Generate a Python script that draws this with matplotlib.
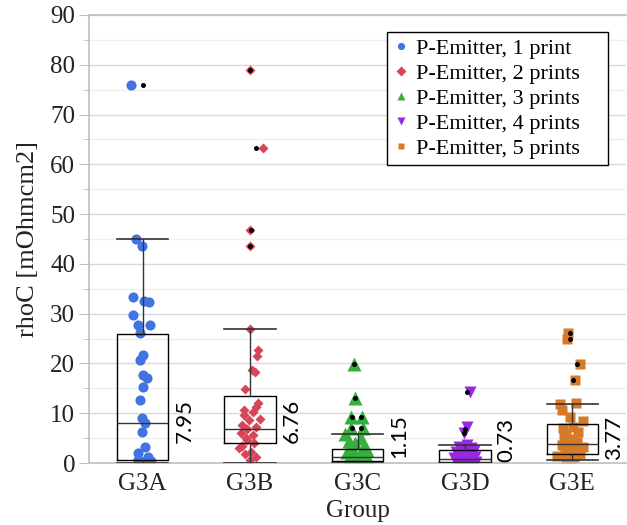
import matplotlib
matplotlib.use('Agg')
import matplotlib.pyplot as plt
from matplotlib.patches import Rectangle
import numpy as np

# data
groups = ['G3A', 'G3B', 'G3C', 'G3D', 'G3E']
labels = ['P-Emitter, 1 print', 'P-Emitter, 2 prints', 'P-Emitter, 3 prints',
          'P-Emitter, 4 prints', 'P-Emitter, 5 prints']

g3a = [76, 45, 43.5, 33.3, 32.5, 32.3, 29.7, 27.7, 27.7, 26.1, 21.7, 20.7, 17.7,
       17.0, 15.3, 12.7, 9.0, 8.0, 6.3, 3.2, 2.0, 1.2, 0.6, 0.4, 0.4, 0.3]
g3b = [79.0, 63.3, 46.8, 43.6, 26.9, 22.7, 21.5, 18.7, 18.3, 14.8, 12.0, 11.3,
       10.6, 10.3, 9.6, 8.9, 8.6, 7.6, 7.2, 6.8, 6.0, 5.6, 5.0, 4.6, 4.0, 3.5,
       3.0, 2.3, 1.8, 1.2, 0.6]
g3c = [19.9, 13.0, 9.3, 9.3, 7.0, 7.0, 5.8, 5.0, 4.5, 4.0, 3.4, 3.0, 2.6, 2.2,
       1.8, 1.5, 1.15, 1.0, 0.8, 0.6, 0.4, 0.3, 0.2, 0.1]
g3d = [14.3, 7.3, 6.0, 3.6, 3.2, 3.0, 2.8, 2.5, 2.2, 2.0, 1.7, 1.5, 1.2, 1.0,
       0.8, 0.7, 0.5, 0.4, 0.3, 0.2, 0.1, 0.0]
g3e = [26.2, 25.0, 19.8, 16.7, 12.1, 11.8, 10.6, 9.2, 8.4, 7.3, 7.0, 6.3, 5.8,
       5.3, 4.8, 4.3, 3.9, 3.6, 3.3, 3.0, 2.6, 2.2, 1.8, 1.4, 1.2, 0.8, 0.3]
values = [g3a, g3b, g3c, g3d, g3e]

# horizontal spread of the points (pixels in the reference)
jit_a = [-12, -7, -1, -10, 1, 6, -10, -5, 7, -3, 0, -3, 0, 4, 0, -3, -1, 2, -1,
         2, -5, 5, -5, 2, 8, -3]
jit_b = [0, 13, 0, 0, 0, 8, 7, 2, 5, -5, 8, 6, -6, 3, -6, 10, -1, -8, 6, -3, -9,
         3, -4, -3, 4, -8, -11, 1, -5, 6, 0]
jit_c = [-3, -2, -6, 4, -6, 5, -12, 3, -8, -2, 6, -5, 9, -10, 2, -6, 7, -2, 10,
         -9, 4, -4, 1, 8]
jit_d = [5, 2, -1, 2, -6, 6, -2, 9, -9, 1, 4, -5, 10, -11, 0, 7, -4, 3, -8, 11,
         -2, 5]
jit_e = [-4, -5, 8, 3, 4, -12, -10, -2, 11, 1, -9, 6, -6, -8, 2, 5, -4, -10, 11,
         -2, 3, -7, 8, -15, 2, -6, -1]
jitter = [jit_a, jit_b, jit_c, jit_d, jit_e]

# box statistics
medians = [7.95, 6.76, 1.15, 0.73, 3.77]
q1 = [0.6, 4.1, 0.4, 0.26, 1.9]
q3 = [26.0, 13.5, 2.75, 2.6, 7.8]
whislo = [0.0, 0.0, 0.0, 0.0, 0.6]
whishi = [45.0, 26.9, 5.8, 3.6, 11.9]

# outliers flagged by the box plot (black dots)
outliers = [[76], [79.0, 63.3, 46.8, 43.6], [19.9, 13.0, 9.3, 9.3, 7.0, 7.0],
            [14.3, 6.8, 6.0], [26.2, 25.0, 19.8, 16.7]]
out_jit = [[0], [0, 6, 1, 0], [-3, -2, -5, 3, -5, 3], [2, 0, -1], [-2, -2, 5, 1]]

med_label_y = [4.0, 4.0, 1.0, 0.3, 0.6]

colors = ['#4173E2', '#D64558', '#33B03E', '#9A28E2', '#D67A28']
markers = ['o', 'D', '^', 'v', 's']
msizes = [7.3, 5.4, 10, 9, 6.5]
leg_ms = [5.2, 4.6, 6.2, 6.2, 4.6]

plt.rcParams['font.family'] = ['Liberation Serif']

fig = plt.figure(figsize=(6.27, 5.25), dpi=100)
ax = fig.add_axes([89 / 627, 62 / 525, 537 / 627, 448 / 525])

px = 1 / 107.3  # one reference pixel in x data units
handles = []
for i in range(5):
    xs = i + np.array(jitter[i]) * px
    ax.plot(xs, values[i], linestyle='none', marker=markers[i], ms=msizes[i],
            color=colors[i], mec='none', zorder=2)
    h, = ax.plot([], [], linestyle='none', marker=markers[i], ms=leg_ms[i],
                 color=colors[i], mec='none', label=labels[i])
    handles.append(h)
    ox = i + np.array(out_jit[i]) * px
    ax.plot(ox, outliers[i], linestyle='none', marker='o', ms=3.6,
            color='black', mec='none', zorder=4)

stats = []
for i in range(5):
    stats.append(dict(med=medians[i], q1=q1[i], q3=q3[i],
                      whislo=whislo[i], whishi=whishi[i], fliers=[]))
ax.bxp(stats, positions=range(5), widths=0.48, capwidths=0.48,
       showfliers=False, patch_artist=False, manage_ticks=False,
       boxprops=dict(color='black', lw=1), whiskerprops=dict(color='#333333', lw=1),
       capprops=dict(color='#333333', lw=1.2), medianprops=dict(color='#333333', lw=1),
       zorder=3)

for i in range(5):
    ax.text(i + 0.24 + 6 * px, med_label_y[i], f'{medians[i]:.2f}', rotation=90,
            ha='left', va='bottom', fontsize=16, family=['Lato', 'DejaVu Sans'],
            color='black', zorder=5)

ax.set_xlim(-0.5, 4.5)
ax.set_ylim(0, 90)
ax.set_xticks(range(5))
ax.set_xticklabels(groups)
ax.set_yticks(np.arange(0, 91, 10))
ax.set_yticks(np.arange(5, 90, 10), minor=True)
ax.tick_params(axis='x', length=0, labelsize=18, pad=7, labelcolor='#222222')
ax.tick_params(axis='y', which='major', length=7, color='#bfbfbf', labelsize=18,
               labelcolor='#222222', pad=3)
ax.tick_params(axis='y', which='minor', length=4, color='#bfbfbf')
ax.grid(axis='y', which='major', color='#d9d9d9', lw=1, zorder=0)
ax.grid(axis='y', which='minor', color='#efefef', lw=1, zorder=0)
ax.set_axisbelow(True)

for s in ['left', 'top', 'bottom']:
    ax.spines[s].set_color('#bfbfbf')
    ax.spines[s].set_linewidth(1.2)
ax.spines['right'].set_visible(False)

ax.set_xlabel('Group', fontsize=18, color='#222222', labelpad=4)
ax.set_ylabel('rhoC [mOhmcm2]', fontsize=19, color='#222222', labelpad=8)

# legend frame drawn separately (wider padding on the right in the original)
frame = Rectangle(((387 - 89) / 537, (463 - 165) / 448), 221 / 537, 133 / 448,
                  transform=ax.transAxes, facecolor='white', edgecolor='black',
                  lw=1, zorder=6)
ax.add_patch(frame)
leg = ax.legend(handles=handles, loc='upper left',
                bbox_to_anchor=((392 - 89) / 537, (463 - 38.5) / 448),
                borderaxespad=0, borderpad=0, fontsize=16, labelspacing=0.2,
                handlelength=0.8, handletextpad=0.3, frameon=False)
leg.set_zorder(7)

plt.savefig('out.png', dpi=100)
